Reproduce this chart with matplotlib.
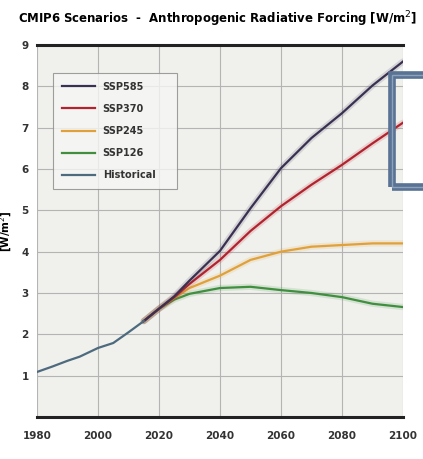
"""Anthropogenic radiative forcing for the CMIP6 scenarios, 1980-2100."""

import matplotlib

matplotlib.use("Agg")
import matplotlib.pyplot as plt
from matplotlib.patches import Rectangle

# historical forcing [W/m2]
hist_years = [1980, 1985, 1990, 1994, 2000, 2005, 2010, 2015]
hist_values = [1.09, 1.22, 1.36, 1.46, 1.67, 1.79, 2.05, 2.32]

# scenario forcing [W/m2], shared year grid
ssp_years = [2015, 2020, 2025, 2030, 2040, 2050, 2060, 2070, 2080, 2090, 2100]
ssp585 = [2.32, 2.62, 2.92, 3.30, 4.02, 5.05, 6.02, 6.75, 7.35, 8.02, 8.60]
ssp370 = [2.32, 2.62, 2.90, 3.22, 3.80, 4.50, 5.10, 5.62, 6.10, 6.62, 7.12]
ssp245 = [2.32, 2.62, 2.88, 3.12, 3.42, 3.80, 4.00, 4.12, 4.16, 4.20, 4.20]
ssp126 = [2.32, 2.62, 2.84, 2.98, 3.12, 3.15, 3.07, 3.00, 2.90, 2.74, 2.66]

scenario_labels = ["SSP585", "SSP370", "SSP245", "SSP126"]
scenario_colors = ["#3a3152", "#b3232f", "#e0a13a", "#3f8f3f"]
hist_label = "Historical"
hist_color = "#4d6a7e"

x_ticks = [1980, 2000, 2020, 2040, 2060, 2080, 2100]
y_ticks = [1, 2, 3, 4, 5, 6, 7, 8, 9]

fig = plt.figure(figsize=(4.23, 4.59), dpi=100)
ax = fig.add_axes([0.0875, 0.0915, 0.8652, 0.8105])
ax.set_facecolor("#f0f0ec")

series = [ssp585, ssp370, ssp245, ssp126]
# draw low scenarios first so the high ones sit on top
for values, label, color in reversed(list(zip(series, scenario_labels, scenario_colors))):
    ax.plot(ssp_years, values, color=color, lw=4.5, alpha=0.15, solid_capstyle="round")
    ax.plot(ssp_years, values, color=color, lw=1.6, label=label)
ax.plot(hist_years, hist_values, color=hist_color, lw=1.6, label=hist_label)

ax.set_xlim(1980, 2100)
ax.set_ylim(0, 9)
ax.set_xticks(x_ticks)
ax.set_yticks(y_ticks)
ax.tick_params(axis="x", length=0, pad=10, labelsize=7.5)
ax.tick_params(axis="y", length=0, pad=6, labelsize=7.5)
for lab in ax.get_xticklabels() + ax.get_yticklabels():
    lab.set_fontweight("bold")
    lab.set_color("#333333")

ax.grid(True, color="#b4b4b4", lw=0.8)
ax.set_axisbelow(True)
for side in ("left", "right"):
    ax.spines[side].set_visible(False)
for side in ("top", "bottom"):
    ax.spines[side].set_color("#222222")
    ax.spines[side].set_linewidth(2.2)

ax.set_ylabel("[W/m$^2$]", fontsize=7.5, fontweight="bold")
ax.yaxis.set_label_coords(-0.062, 0.5)

handles, labels = ax.get_legend_handles_labels()
order = [labels.index(name) for name in scenario_labels + [hist_label]]
leg = ax.legend(
    [handles[i] for i in order],
    [labels[i] for i in order],
    loc="upper left",
    bbox_to_anchor=(0.044, 0.5, 0.339, 0.425),
    mode="expand",
    borderaxespad=0,
    fontsize=7,
    frameon=True,
    fancybox=False,
    edgecolor="#888888",
    facecolor="#f6f6f4",
    handlelength=3.4,
    labelspacing=1.25,
    borderpad=0.9,
)
leg.get_frame().set_linewidth(0.8)
for text in leg.get_texts():
    text.set_fontweight("bold")
    text.set_color("#333333")

fig.text(
    0.042,
    0.958,
    "CMIP6 Scenarios  -  Anthropogenic Radiative Forcing [W/m$^2$]",
    fontsize=9.35,
    fontweight="bold",
    fontstretch="condensed",
    family=["DejaVu Sans"],
    ha="left",
    va="center",
)

# framed callout box on the right edge
fig.patches.append(
    Rectangle((391.5 / 423, 1 - 186.5 / 459), 0.2, 111 / 459, transform=fig.transFigure,
              facecolor="none", edgecolor="#5a7394", lw=5.5, zorder=10)
)
fig.patches.append(
    Rectangle((391.5 / 423, 1 - 186.5 / 459), 0.2, 111 / 459, transform=fig.transFigure,
              facecolor="none", edgecolor="#8da2bb", lw=1.0, zorder=11)
)

fig.savefig("out.png", dpi=100)
